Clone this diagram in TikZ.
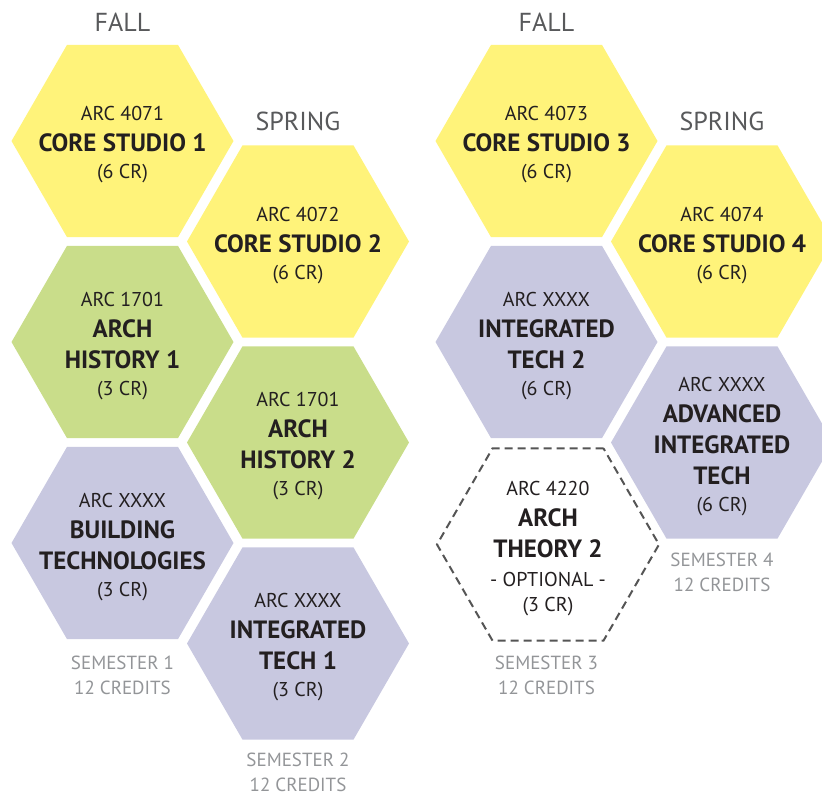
\documentclass[tikz,border=0pt]{standalone}
\usepackage{fontspec}
\setmainfont{PT Sans}
\usetikzlibrary{shapes.geometric}
\definecolor{coreyellow}{HTML}{FFF37A}
\definecolor{histgreen}{HTML}{C9DD8A}
\definecolor{techlilac}{HTML}{C8C8E0}
\definecolor{ink}{HTML}{231F20}
\definecolor{seasongray}{HTML}{58595B}
\definecolor{semgray}{HTML}{939598}
\definecolor{dashgray}{HTML}{555555}
\newcommand{\ctitle}[1]{{\fontsize{25}{31}\selectfont\bfseries #1}}

\begin{document}
\begin{tikzpicture}[
  x=1pt, y=-1pt,
  hexa/.style={regular polygon, regular polygon sides=6, minimum size=222pt, inner sep=0pt, outer sep=0pt},
  course/.style={align=center, text=ink, font=\fontsize{20}{31}\selectfont, yshift=-4pt},
  season/.style={text=seasongray, font=\fontsize{26}{30}\selectfont},
  total/.style={align=center, text=semgray, font=\fontsize{19}{25}\selectfont}
]
\useasboundingbox (0,0) rectangle (822,796);

\node[season] (fall1) at (122.5,22) {FALL};
\node[season] (spring1) at (298,121) {SPRING};
\node[season] (fall2) at (546.5,22) {FALL};
\node[season] (spring2) at (722,121) {SPRING};

\node[hexa, fill=coreyellow] (cs1) at (122.5,141) {};
\node[course] (cs1-t) at (cs1) {ARC 4071\\\ctitle{CORE STUDIO 1}\\[-4pt](6 CR)};
\node[hexa, fill=histgreen] (hist1) at (122.5,342) {};
\node[course] (hist1-t) at (hist1) {ARC 1701\\\ctitle{ARCH}\\\ctitle{HISTORY 1}\\[-4pt](3 CR)};
\node[hexa, fill=techlilac] (bldg) at (122.5,543) {};
\node[course] (bldg-t) at (bldg) {ARC XXXX\\\ctitle{BUILDING}\\\ctitle{TECHNOLOGIES}\\[-4pt](3 CR)};

\node[hexa, fill=coreyellow] (cs2) at (298,241.5) {};
\node[course] (cs2-t) at (cs2) {ARC 4072\\\ctitle{CORE STUDIO 2}\\[-4pt](6 CR)};
\node[hexa, fill=histgreen] (hist2) at (298,442.5) {};
\node[course] (hist2-t) at (hist2) {ARC 1701\\\ctitle{ARCH}\\\ctitle{HISTORY 2}\\[-4pt](3 CR)};
\node[hexa, fill=techlilac] (itech1) at (298,643.5) {};
\node[course] (itech1-t) at (itech1) {ARC XXXX\\\ctitle{INTEGRATED}\\\ctitle{TECH 1}\\[-4pt](3 CR)};

\node[hexa, fill=coreyellow] (cs3) at (546.5,141) {};
\node[course] (cs3-t) at (cs3) {ARC 4073\\\ctitle{CORE STUDIO 3}\\[-4pt](6 CR)};
\node[hexa, fill=techlilac] (itech2) at (546.5,342) {};
\node[course] (itech2-t) at (itech2) {ARC XXXX\\\ctitle{INTEGRATED}\\\ctitle{TECH 2}\\[-4pt](6 CR)};
\node[hexa, draw=dashgray, line width=2pt, dash pattern=on 8pt off 5pt] (theory2) at (548,544.5) {};
\node[course] (theory2-t) at (theory2) {ARC 4220\\\ctitle{ARCH}\\\ctitle{THEORY 2}\\[-2pt]- OPTIONAL -\\[-6pt](3 CR)};

\node[hexa, fill=coreyellow] (cs4) at (722,241.5) {};
\node[course] (cs4-t) at (cs4) {ARC 4074\\\ctitle{CORE STUDIO 4}\\[-4pt](6 CR)};
\node[hexa, fill=techlilac] (advtech) at (722,442.5) {};
\node[course] (advtech-t) at (advtech) {ARC XXXX\\\ctitle{ADVANCED}\\\ctitle{INTEGRATED}\\\ctitle{TECH}\\[-4pt](6 CR)};

\node[total] (sem1) at (122.5,675) {SEMESTER 1\\12 CREDITS};
\node[total] (sem2) at (298,772) {SEMESTER 2\\12 CREDITS};
\node[total] (sem3) at (546.5,675) {SEMESTER 3\\12 CREDITS};
\node[total] (sem4) at (722,572) {SEMESTER 4\\12 CREDITS};
\end{tikzpicture}
\end{document}
